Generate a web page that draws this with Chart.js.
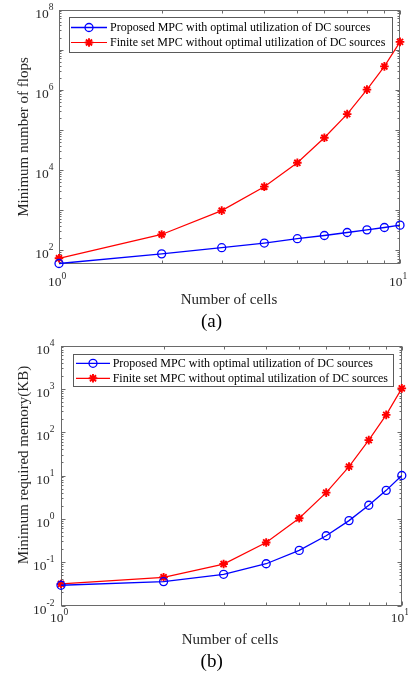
<!DOCTYPE html>
<html><head><meta charset="utf-8">
<script src="https://cdn.jsdelivr.net/npm/chart.js@4.4.1/dist/chart.umd.min.js"></script>
<style>
html,body{margin:0;padding:0;background:#fff;}
#wrap{position:relative;width:408px;height:676px;overflow:hidden;background:#fff;}
canvas{position:absolute;left:0;}
</style></head><body>
<div id="wrap">
<canvas id="c1" width="408" height="335" style="top:0"></canvas>
<canvas id="c2" width="408" height="341" style="top:335px"></canvas>
</div>
<script>
// ---- data ----
const cells = [1, 2, 3, 4, 5, 6, 7, 8, 9, 10];
const flopsProposed = [46, 80, 114, 149, 191, 230, 273, 318, 364, 417];
const flopsFinite = [62, 244, 960, 3800, 15000, 63000, 245000, 1000000, 3800000, 15600000];
const memProposed = [0.0293, 0.0356, 0.0525, 0.092, 0.187, 0.407, 0.91, 2.06, 4.54, 10.0];
const memFinite = [0.0314, 0.0447, 0.0904, 0.285, 1.03, 4.03, 16, 65.5, 251, 1024];
const seriesNames = ['Proposed MPC with optimal utilization of DC sources',
                     'Finite set MPC without optimal utilization of DC sources'];
const xTickExps = [0, 1];
const flopsTickExps = [2, 4, 6, 8];
const memTickExps = [-2, -1, 0, 1, 2, 3, 4];
const xTitle = 'Number of cells';
const flopsTitle = 'Minimum number of flops';
const memTitle = 'Minimum required memory(KB)';
const captions = ['(a)', '(b)'];

const SERIF = "'Liberation Serif', 'Times New Roman', serif";
const BLUE = 'rgb(0,0,255)', RED = 'rgb(255,0,0)';

function drawPow(ctx, exp, x, y, align, big, small, dyBase, dySup) {
  ctx.font = big + 'px ' + SERIF;
  const w1 = ctx.measureText('10').width;
  ctx.font = small + 'px ' + SERIF;
  const w2 = ctx.measureText(String(exp)).width;
  const tot = w1 + w2;
  let left = align === 'right' ? x - tot : x - tot / 2;
  ctx.textAlign = 'left';
  ctx.textBaseline = 'middle';
  ctx.font = big + 'px ' + SERIF;
  ctx.fillText('10', left, y + dyBase);
  ctx.font = small + 'px ' + SERIF;
  ctx.fillText(String(exp), left + w1, y + dySup);
}

function drawMarker(ctx, style, x, y, r, color, lw) {
  ctx.save();
  ctx.strokeStyle = color; ctx.lineWidth = lw;
  ctx.beginPath();
  if (style === 'circle') {
    ctx.arc(x, y, r, 0, Math.PI * 2);
  } else {
    for (let i = 0; i < 4; i++) {
      const ang = i * Math.PI / 4;
      ctx.moveTo(x - r * Math.cos(ang), y - r * Math.sin(ang));
      ctx.lineTo(x + r * Math.cos(ang), y + r * Math.sin(ang));
    }
  }
  ctx.stroke();
  ctx.restore();
}

const matlabPlugin = {
  id: 'matlab',
  beforeDatasetsDraw(chart, args, o) {
    const { ctx, chartArea: a, scales: { x, y } } = chart;
    ctx.save();
    ctx.strokeStyle = '#6a6a6a';
    ctx.lineWidth = 1;
    ctx.beginPath();
    const L = Math.round(a.left) + 0.5, R = Math.round(a.right) - 0.5;
    const T = Math.round(a.top) + 0.5, B = Math.round(a.bottom) - 0.5;
    for (let k = Math.floor(Math.log10(y.min)); k <= Math.ceil(Math.log10(y.max)); k++) {
      for (let m = 1; m <= 9; m++) {
        const v = m * Math.pow(10, k);
        if (v < y.min * 0.999 || v > y.max * 1.001) continue;
        const py = Math.round(y.getPixelForValue(v)) + 0.5;
        const len = m === 1 ? 4 : 2;
        ctx.moveTo(L, py); ctx.lineTo(L + len, py);
        ctx.moveTo(R, py); ctx.lineTo(R - len, py);
      }
    }
    for (let k = 0; k <= 1; k++) {
      for (let m = 1; m <= 9; m++) {
        const v = m * Math.pow(10, k);
        if (v < x.min * 0.999 || v > x.max * 1.001) continue;
        const px = Math.round(x.getPixelForValue(v)) + 0.5;
        const len = m === 1 ? 4 : 3;
        ctx.moveTo(px, B); ctx.lineTo(px, B - len);
        ctx.moveTo(px, T); ctx.lineTo(px, T + len);
      }
    }
    ctx.stroke();
    ctx.strokeRect(L, T, R - L, B - T);
    ctx.restore();
  },
  afterDatasetsDraw(chart, args, o) {
    const { ctx, chartArea: a, scales: { x, y } } = chart;
    ctx.save();
    ctx.fillStyle = '#2a2a2a';
    o.yTickExps.forEach(e => {
      const py = y.getPixelForValue(Math.pow(10, e));
      drawPow(ctx, e, a.left - o.yLabelGap, py, 'right', 13.5, 9.5, 4.5, -2.5);
    });
    o.xTickExps.forEach(e => {
      const px = x.getPixelForValue(Math.pow(10, e));
      drawPow(ctx, e, px - 2, a.bottom + o.xLabelDy, 'center', 13.5, 9.5, 0.5, -5.5);
    });
    ctx.fillStyle = '#262626';
    ctx.font = '15px ' + SERIF;
    ctx.textAlign = 'center';
    ctx.textBaseline = 'middle';
    ctx.fillText(o.xTitle, o.xTitlePos[0], o.xTitlePos[1]);
    ctx.save();
    ctx.translate(o.yTitlePos[0], o.yTitlePos[1]);
    ctx.rotate(-Math.PI / 2);
    ctx.fillText(o.yTitle, 0, 0);
    ctx.restore();
    ctx.fillStyle = '#000';
    ctx.font = '19px ' + SERIF;
    ctx.fillText(o.caption, o.captionPos[0], o.captionPos[1]);
    const lg = o.legend;
    ctx.fillStyle = '#fff';
    ctx.fillRect(lg.box[0], lg.box[1], lg.box[2] - lg.box[0], lg.box[3] - lg.box[1]);
    ctx.strokeStyle = '#5a5a5a';
    ctx.lineWidth = 1;
    ctx.strokeRect(Math.round(lg.box[0]) + 0.5, Math.round(lg.box[1]) + 0.5,
      Math.round(lg.box[2] - lg.box[0]), Math.round(lg.box[3] - lg.box[1]));
    chart.data.datasets.forEach((ds, i) => {
      const ry = lg.rows[i];
      ctx.strokeStyle = ds.borderColor;
      ctx.lineWidth = ds.borderWidth;
      ctx.beginPath();
      ctx.moveTo(lg.lineX[0], ry); ctx.lineTo(lg.lineX[1], ry);
      ctx.stroke();
      drawMarker(ctx, ds.pointStyle, lg.markerX, ry, ds.pointRadius, ds.pointBorderColor, ds.pointBorderWidth);
      ctx.fillStyle = '#000';
      ctx.font = '12px ' + SERIF;
      ctx.textAlign = 'left';
      ctx.textBaseline = 'middle';
      ctx.fillText(ds.label, lg.textX, ry + 0.5);
    });
    ctx.restore();
  }
};

function makeDatasets(prop, fin) {
  return [
    {
      label: seriesNames[0],
      data: cells.map((c, i) => ({ x: c, y: prop[i] })),
      borderColor: BLUE, borderWidth: 1.3,
      pointStyle: 'circle', pointRadius: 4, pointBorderColor: BLUE, pointBorderWidth: 1.3,
      pointBackgroundColor: 'rgba(0,0,0,0)', fill: false, tension: 0, clip: false
    },
    {
      label: seriesNames[1],
      data: cells.map((c, i) => ({ x: c, y: fin[i] })),
      borderColor: RED, borderWidth: 1.2,
      pointStyle: 'star', pointRadius: 4.3, pointBorderColor: RED, pointBorderWidth: 1.9,
      pointBackgroundColor: RED, fill: false, tension: 0, clip: false
    }
  ];
}

function makeChart(id, prop, fin, yMin, yMax, pad, opts) {
  return new Chart(document.getElementById(id), {
    type: 'line',
    data: { datasets: makeDatasets(prop, fin) },
    options: {
      responsive: false, animation: false, devicePixelRatio: 1, events: [],
      layout: { padding: pad },
      scales: {
        x: { type: 'logarithmic', min: 1, max: 10, display: false },
        y: { type: 'logarithmic', min: yMin, max: yMax, display: false }
      },
      plugins: { legend: { display: false }, tooltip: { enabled: false }, matlab: opts }
    },
    plugins: [matlabPlugin]
  });
}

makeChart('c1', flopsProposed, flopsFinite, 46, 1e8,
  { left: 59, right: 8, top: 9.5, bottom: 71.5 },
  {
    yTickExps: flopsTickExps, xTickExps: xTickExps, yLabelGap: 5.5, xLabelDy: 18.5,
    xTitle: xTitle, xTitlePos: [229, 300], yTitle: flopsTitle, yTitlePos: [24, 137],
    caption: captions[0], captionPos: [211.5, 322],
    legend: { box: [68.5, 17, 391, 51.5], rows: [27.5, 42.5], lineX: [71, 107], markerX: 89, textX: 110 }
  });

makeChart('c2', memProposed, memFinite, 0.01, 1e4,
  { left: 61, right: 6, top: 10.5, bottom: 70.5 },
  {
    yTickExps: memTickExps, xTickExps: xTickExps, yLabelGap: 6.5, xLabelDy: 12,
    xTitle: xTitle, xTitlePos: [230, 305], yTitle: memTitle, yTitlePos: [24, 130],
    caption: captions[1], captionPos: [211.7, 327],
    legend: { box: [72.7, 19.3, 392.7, 51], rows: [28.3, 43.3], lineX: [76, 110], markerX: 93, textX: 112.7 }
  });
</script>
</body></html>
